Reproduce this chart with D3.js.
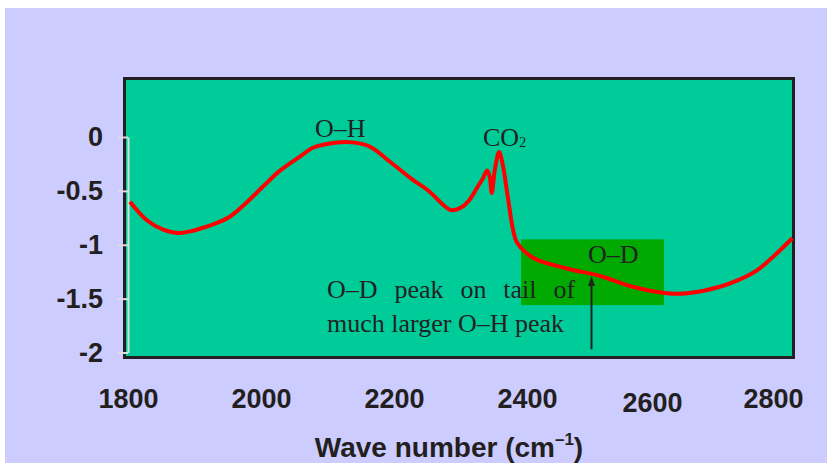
<!DOCTYPE html>
<html>
<head>
<meta charset="utf-8">
<script src="https://cdn.jsdelivr.net/npm/d3@7"></script>
<style>
  body { margin: 0; background: #fff; }
  svg { display: block; }
</style>
</head>
<body>
<div id="chart"></div>
<script>
// IR spectrum, wave number vs signal
var waveNumber = [1803, 1828, 1853, 1878, 1928, 1953, 1978, 2003, 2029, 2059, 2078, 2114,
	2138, 2164, 2194, 2229, 2250, 2280, 2287, 2302, 2314, 2325, 2334, 2340, 2344, 2347,
	2352, 2358, 2363, 2371, 2379, 2385, 2409, 2460, 2510, 2559, 2610, 2641, 2690, 2740,
	2765, 2799];
var signal = [-0.60, -0.77, -0.86, -0.89, -0.81, -0.74, -0.61, -0.46, -0.31, -0.18, -0.10, -0.05,
	-0.05, -0.09, -0.23, -0.40, -0.49, -0.66, -0.68, -0.65, -0.58, -0.47, -0.38, -0.31, -0.37, -0.52,
	-0.29, -0.14, -0.24, -0.55, -0.86, -0.98, -1.12, -1.22, -1.29, -1.39, -1.45, -1.45, -1.39, -1.26,
	-1.14, -0.94];

var xTicks = [1800, 2000, 2200, 2400, 2600, 2800];
var yTicks = [0, -0.5, -1, -1.5, -2];

// highlighted O-D region [x0, x1, yTop, yBottom]
var odBox = [2391, 2606, -0.95, -1.56];
// arrow pointing at the O-D peak [x, yFrom, yTo]
var odArrow = [2497, -1.97, -1.29];

var width = 827, height = 463;

var svg = d3.select("#chart").append("svg")
	.attr("width", width)
	.attr("height", height);

// lavender slide background
svg.append("rect")
	.attr("x", 5).attr("y", 8)
	.attr("width", width - 5).attr("height", height - 8)
	.attr("fill", "#ccccff");

var x = d3.scaleLinear().domain([1800, 2800]).range([128, 793]);
var y = d3.scaleLinear().domain([-2, 0]).range([352.5, 137]);

// plot area
svg.append("rect")
	.attr("x", 124.5).attr("y", 78.5)
	.attr("width", 669).attr("height", 279)
	.attr("fill", "#00cc99")
	.attr("stroke", "#231f20")
	.attr("stroke-width", 3);

// green highlight box
svg.append("rect")
	.attr("x", x(odBox[0]))
	.attr("y", y(odBox[2]))
	.attr("width", x(odBox[1]) - x(odBox[0]))
	.attr("height", y(odBox[3]) - y(odBox[2]))
	.attr("fill", "#00aa00");

// y axis
var yAxis = svg.append("g")
	.attr("transform", "translate(128,0)")
	.call(d3.axisLeft(y)
		.tickValues(yTicks)
		.tickSize(10)
		.tickSizeOuter(0)
		.tickPadding(15)
		.tickFormat(function(d) { return String(d); }));

yAxis.selectAll("path, line")
	.attr("stroke", "#dddddd")
	.attr("stroke-width", 2);

yAxis.selectAll("text")
	.attr("fill", "#231f20")
	.style("font-family", "'Liberation Sans', Arial, sans-serif")
	.style("font-weight", "bold")
	.style("font-size", "27px");

// x axis labels (no line, labels only)
var xAxis = svg.append("g")
	.attr("transform", "translate(0,358)")
	.call(d3.axisBottom(x).tickValues(xTicks).tickSize(0).tickFormat(d3.format("d")));

xAxis.select(".domain").remove();

xAxis.selectAll("text")
	.attr("dy", null)
	.attr("y", 50)
	.attr("fill", "#231f20")
	.style("font-family", "'Liberation Sans', Arial, sans-serif")
	.style("font-weight", "bold")
	.style("font-size", "27px")
	.attr("transform", function(d) {
		// labels in the original sit a little off their tick
		if (d == 2600) return "translate(-8,4)";
		if (d == 2800) return "translate(-20,0)";
		return null;
	});

// x axis title
var title = svg.append("text")
	.attr("x", 449)
	.attr("y", 457)
	.attr("text-anchor", "middle")
	.attr("fill", "#231f20")
	.style("font-family", "'Liberation Sans', Arial, sans-serif")
	.style("font-weight", "bold")
	.style("font-size", "28px");
title.append("tspan").text("Wave number (cm");
title.append("tspan").text("\u20131").attr("dy", -12).style("font-size", "17px");
title.append("tspan").text(")").attr("dy", 12);

// spectrum line
var line = d3.line()
	.x(function(d, i) { return x(waveNumber[i]); })
	.y(function(d) { return y(d); })
	.curve(d3.curveCatmullRom);

svg.append("path")
	.datum(signal)
	.attr("d", line)
	.attr("fill", "none")
	.attr("stroke", "#ff0000")
	.attr("stroke-width", 4)
	.attr("stroke-linejoin", "round");

// annotations
var serif = "'Liberation Serif', 'Times New Roman', serif";

function note(tx, ty, str, extra) {
	var t = svg.append("text")
		.attr("x", tx).attr("y", ty)
		.attr("fill", "#222")
		.style("font-family", serif)
		.style("font-size", "26px")
		.text(str);
	if (extra) extra(t);
	return t;
}

note(315, 137, "O\u2013H");
var co2 = note(483, 146, "CO");
co2.append("tspan").text("2").style("font-size", "14px").attr("dy", 1);
note(588, 263, "O\u2013D");
note(327, 298, "O\u2013D peak on tail of", function(t) { t.attr("word-spacing", "10.4px"); });
note(327, 332, "much larger O\u2013H peak");

// arrow
svg.append("line")
	.attr("x1", x(odArrow[0])).attr("y1", y(odArrow[1]))
	.attr("x2", x(odArrow[0])).attr("y2", y(odArrow[2]) + 8)
	.attr("stroke", "#222")
	.attr("stroke-width", 2);

var ax = x(odArrow[0]), ay = y(odArrow[2]);
svg.append("path")
	.attr("d", "M" + ax + "," + ay + "L" + (ax - 3.5) + "," + (ay + 10) + "L" + (ax + 3.5) + "," + (ay + 10) + "Z")
	.attr("fill", "#222");
</script>
</body>
</html>
